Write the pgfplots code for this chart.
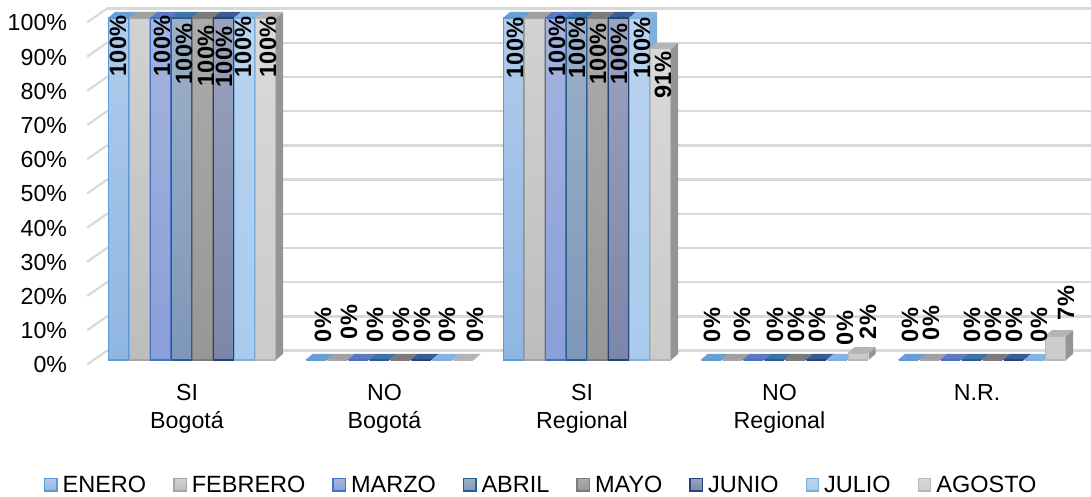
\documentclass[border=0pt]{standalone}
\usepackage{pgfplots}
\pgfplotsset{compat=1.18}
\usepackage{fontspec}
\setmainfont{Liberation Sans}
\newcommand\fs{\fontsize{23.2}{28}\selectfont}
\newcommand\faces[5]{% group, slot, value, top colour, side colour
  \pgfmathsetmacro\xl{#1+(#2-4)*21/197.5}
  \pgfmathsetmacro\xr{\xl+21/197.5}
  \pgfmathsetmacro\xla{\xl+7/197.5}
  \pgfmathsetmacro\xra{\xr+7/197.5}
  \pgfmathsetmacro\va{#3+6/3.42}
  \pgfmathsetmacro\za{6/3.42}
  \edef\tmp{\noexpand\addplot[forget plot,fill=#5,draw=none] coordinates {(\xr,#3)(\xra,\va)(\xra,\za)(\xr,0)} --cycle;
  \noexpand\addplot[forget plot,fill=#4,draw=none] coordinates {(\xl,#3)(\xla,\va)(\xra,\va)(\xr,#3)} --cycle;}
  \tmp
}
% slot, values for the five categories, top colour, side colour, bar style
\newcommand\series[9]{%
  \faces{0}{#1}{#2}{#7}{#8}\faces{1}{#1}{#3}{#7}{#8}\faces{2}{#1}{#4}{#7}{#8}\faces{3}{#1}{#5}{#7}{#8}\faces{4}{#1}{#6}{#7}{#8}
  \pgfmathsetmacro\sh{(#1-3.5)*21}
  \edef\tmp{\noexpand\addplot[ybar,bar width=19.5pt,bar shift=\sh pt,#9] coordinates {(0,#2)(1,#3)(2,#4)(3,#5)(4,#6)};}
  \tmp
}
\newcommand\lab[3]{\node[rotate=90,inner sep=0pt,font=\fontsize{23.6}{28}\selectfont\bfseries] at ({#1*1pt},{(497-#2)*1pt}) {#3};}
\definecolor{grd}{HTML}{D9D9D9}
\definecolor{hBorder0}{HTML}{5B9BD5}\definecolor{tA0}{HTML}{B0CCEB}\definecolor{bA0}{HTML}{8FB6E2}
\definecolor{hBorder1}{HTML}{A5A5A5}\definecolor{tA1}{HTML}{D2D2D2}\definecolor{bA1}{HTML}{BDBDBD}
\definecolor{hBorder2}{HTML}{4472C4}\definecolor{tA2}{HTML}{A5B4DE}\definecolor{bA2}{HTML}{8A9FD8}
\definecolor{hBorder3}{HTML}{255E91}\definecolor{tA3}{HTML}{9DB0C9}\definecolor{bA3}{HTML}{7F97B8}
\definecolor{hBorder4}{HTML}{7B7B7B}\definecolor{tA4}{HTML}{ABABAB}\definecolor{bA4}{HTML}{979797}
\definecolor{hBorder5}{HTML}{264478}\definecolor{tA5}{HTML}{9AA2BE}\definecolor{bA5}{HTML}{7C86A8}
\definecolor{hBorder6}{HTML}{7CAFDD}\definecolor{tA6}{HTML}{BAD4EE}\definecolor{bA6}{HTML}{A8CBEE}
\definecolor{hBorder7}{HTML}{B7B7B7}\definecolor{tA7}{HTML}{DADADA}\definecolor{bA7}{HTML}{CBCBCB}
\definecolor{f0}{HTML}{6A9FD3}\definecolor{f1}{HTML}{A0A0A0}\definecolor{f2}{HTML}{5E79C4}\definecolor{f3}{HTML}{3E74A5}
\definecolor{f4}{HTML}{7B7B7B}\definecolor{f5}{HTML}{3C5A94}\definecolor{f6}{HTML}{85B5E0}\definecolor{f7}{HTML}{B4B4B4}
\definecolor{sd}{HTML}{959595}\definecolor{sj}{HTML}{7FB0DD}
\begin{document}
\begin{tikzpicture}[x=1pt,y=1pt]
\path[use as bounding box] (0,0) rectangle (1091,497);
\begin{axis}[
  at={(192pt,137pt)},anchor=origin,
  x=197.5pt,y=3.42pt,
  xmin=-0.5,xmax=4.552,ymin=0,ymax=100,
  clip=false,
  axis line style={draw=none},
  major tick length=0pt,
  tick style={draw=none},
  xtick={0,1,2,3,4},
  xticklabels={SI\\Bogotá,NO\\Bogotá,SI\\Regional,NO\\Regional,N.R.},
  xticklabel style={align=center,font=\fs,xshift=-5pt,yshift=-24pt,anchor=north,inner sep=0pt},
  ytick={0,10,...,100},
  yticklabel={\pgfmathprintnumber{\tick}\%},
  /pgf/number format/assume math mode=true,
  yticklabel style={font=\fs,anchor=east,inner sep=0pt,xshift=-26pt,yshift=-5pt},
  legend columns=8,
  legend cell align=left,
  legend style={at={(-43.25pt,-120.5pt)},anchor=west,draw=none,fill=none,inner sep=0pt,font=\fontsize{23.5}{28}\selectfont,
     /tikz/every even column/.append style={column sep=25pt},
     /tikz/every odd column/.append style={column sep=3pt}},
  legend image code/.code={\path[#1,bar shift=0pt,line width=1.3pt] (0.6pt,-6.2pt) rectangle (12.9pt,6.2pt);},
]
\foreach \v in {0,10,20,30,40,50,60,70,80,90,100}{
  \pgfmathsetmacro\vb{\v+2.76}
  \pgfmathsetmacro\vc{\v-1.3}
  \edef\tmp{\noexpand\addplot[forget plot,grd,line width=2.4pt] coordinates {(-0.430,\vb)(4.552,\vb)};
  \noexpand\addplot[forget plot,grd,line width=2.2pt] coordinates {(-0.531,\vc)(-0.430,\vb)};}
  \tmp
}
\series{0}{100}{0}{100}{0}{0}{f0}{sj}{draw=hBorder0,line width=1.3pt,top color=tA0,bottom color=bA0}
\series{1}{100}{0}{100}{0}{0}{f1}{sd}{draw=hBorder1,line width=1.3pt,top color=tA1,bottom color=bA1}
\series{2}{100}{0}{100}{0}{0}{f2}{sj}{draw=hBorder2,line width=1.3pt,top color=tA2,bottom color=bA2}
\series{3}{100}{0}{100}{0}{0}{f3}{sj}{draw=hBorder3,line width=1.3pt,top color=tA3,bottom color=bA3}
\series{4}{100}{0}{100}{0}{0}{f4}{sd}{draw=hBorder4,line width=1.3pt,top color=tA4,bottom color=bA4}
\series{5}{100}{0}{100}{0}{0}{f5}{sj}{draw=hBorder5,line width=1.3pt,top color=tA5,bottom color=bA5}
\series{6}{100}{0}{100}{0}{0}{f6}{sj}{draw=hBorder6,line width=1.3pt,top color=tA6,bottom color=bA6}
\series{7}{100}{0}{91}{2}{7}{f7}{sd}{draw=hBorder7,line width=1.3pt,top color=tA7,bottom color=bA7}
\legend{ENERO,FEBRERO,MARZO,ABRIL,MAYO,JUNIO,JULIO,AGOSTO}
\end{axis}
\lab{118}{46}{100\%}\lab{162}{46}{100\%}\lab{184}{54}{100\%}\lab{206}{56}{100\%}\lab{224}{57}{100\%}\lab{243}{47}{100\%}\lab{268}{47}{100\%}
\lab{323}{325}{0\%}\lab{349}{322}{0\%}\lab{375}{325}{0\%}\lab{401}{325}{0\%}\lab{422}{325}{0\%}\lab{447}{325}{0\%}\lab{475}{325}{0\%}
\lab{515}{48}{100\%}\lab{557}{46}{100\%}\lab{577}{48}{100\%}\lab{598}{54}{100\%}\lab{619}{54}{100\%}\lab{642}{48}{100\%}\lab{663}{75}{91\%}
\lab{712}{325}{0\%}\lab{742}{325}{0\%}\lab{775}{325}{0\%}\lab{796}{325}{0\%}\lab{817}{325}{0\%}\lab{845}{328}{0\%}\lab{868}{322}{2\%}
\lab{910}{325}{0\%}\lab{931}{323}{0\%}\lab{972}{325}{0\%}\lab{993}{325}{0\%}\lab{1014}{325}{0\%}\lab{1039}{325}{0\%}\lab{1066}{303}{7\%}
\end{tikzpicture}
\end{document}
